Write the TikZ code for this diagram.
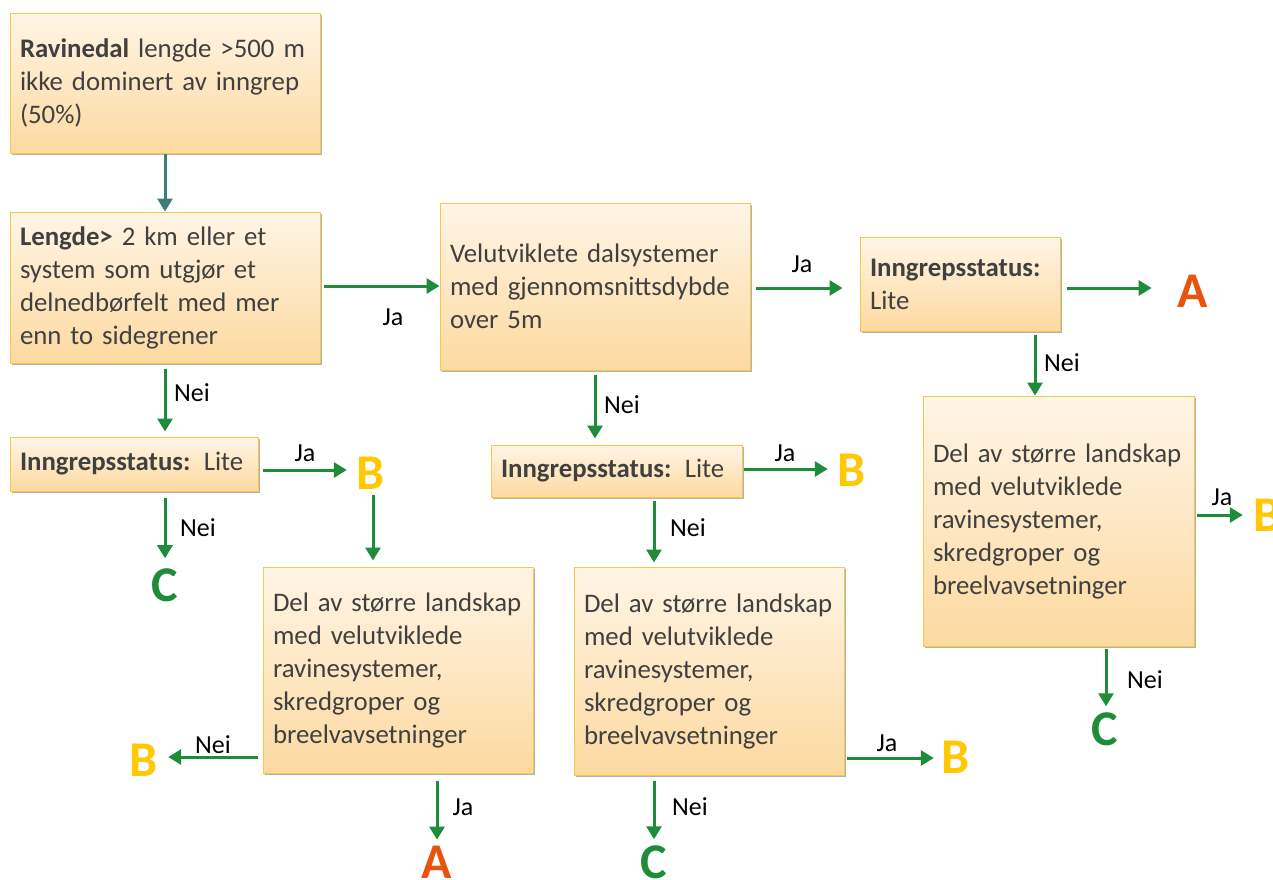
\documentclass[tikz,border=0pt]{standalone}
\usepackage{fontspec}
\setmainfont{Carlito}
\usetikzlibrary{arrows.meta,shadows,calc}
\definecolor{boxtop}{HTML}{FFF5E6}
\definecolor{boxbot}{HTML}{FCD9A0}
\definecolor{boxborder}{HTML}{F2C94A}
\definecolor{textgray}{HTML}{404040}
\definecolor{arrgreen}{HTML}{1E8C3A}
\definecolor{arrteal}{HTML}{3D7F78}
\definecolor{letA}{HTML}{E8530E}
\definecolor{letB}{HTML}{FFC800}
\definecolor{letC}{HTML}{1E8C3A}
\begin{document}
\begin{tikzpicture}[x=1pt,y=-1pt,
  box/.style={draw=boxborder, line width=1pt, top color=boxtop, bottom color=boxbot,
    drop shadow={shadow xshift=1.5pt, shadow yshift=-1.5pt, opacity=0.3, fill=black},
    text=textgray, align=left, inner xsep=10pt, inner ysep=0pt,
    font=\fontsize{26.8}{33}\selectfont},
  arr/.style={draw=arrgreen, line width=3pt, -{Triangle[length=13pt,width=15pt]}},
  lbl/.style={font=\fontsize{26}{28}\selectfont, text=black, inner sep=0pt},
  letter/.style={font=\fontsize{50}{50}\selectfont\bfseries, inner sep=2pt}]
\useasboundingbox (0,0) rectangle (1273,879);
\fill[white] (0,0) rectangle (1273,879);
% boxes
\node[box, text width=290pt, minimum height=140pt] (b1) at (165,83)
  {\textbf{Ravinedal} lengde >500 m\\ikke dominert av inngrep\\(50\%)};
\node[box, text width=290pt, minimum height=151pt] (b2) at (165,287.5)
  {\textbf{Lengde>} 2 km eller et\\system som utgjør et\\delnedbørfelt med mer\\enn to sidegrener};
\node[box, text width=290pt, minimum height=167pt] (b3) at (595,286.5)
  {Velutviklete dalsystemer\\med gjennomsnittsdybde\\over 5m};
\node[box, text width=180pt, minimum height=94pt] (b4) at (960,284)
  {\textbf{Inngrepsstatus:}\\Lite};
\node[box, text width=228pt, minimum height=54pt] (b5) at (134,464)
  {\textbf{Inngrepsstatus:} Lite};
\node[box, text width=231pt, minimum height=52pt] (b6) at (616.5,471)
  {\textbf{Inngrepsstatus:} Lite};
\node[box, text width=250pt, minimum height=206pt] (b7) at (398,670)
  {Del av større landskap\\med velutviklede\\ravinesystemer,\\skredgroper og\\breelvavsetninger};
\node[box, text width=250pt, minimum height=208pt] (b8) at (709,671)
  {Del av større landskap\\med velutviklede\\ravinesystemer,\\skredgroper og\\breelvavsetninger};
\node[box, text width=251pt, minimum height=250pt] (b9) at (1058.5,521)
  {Del av større landskap\\med velutviklede\\ravinesystemer,\\skredgroper og\\breelvavsetninger};
% letters
\node[letter, text=letA] (A1) at (1193,291) {A};
\node[letter, text=letB] (B1) at (371,473) {B};
\node[letter, text=letB] (B2) at (852,470) {B};
\node[letter, text=letB] (B3) at (1267,515) {B};
\node[letter, text=letC] (C1) at (165,585) {C};
\node[letter, text=letB] (B4) at (144,760) {B};
\node[letter, text=letA] (A2) at (437,862) {A};
\node[letter, text=letC] (C2) at (654,862) {C};
\node[letter, text=letB] (B5) at (955,757) {B};
\node[letter, text=letC] (C3) at (1105,729) {C};
% connectors
\draw[arr, draw=arrteal] (b1.south) -- (b2.north);
\coordinate (s1) at ([xshift=3pt,yshift=1.5pt]b2.east);
\draw[arr] (s1) -- (s1 -| b3.west);
\node[lbl] (l1) at (393,317) {Ja};
\coordinate (s2) at ([xshift=5pt,yshift=-1.5pt]b3.east);
\draw[arr] (s2) -- ([xshift=-17pt]s2 -| b4.west);
\node[lbl] (l2) at (802,264) {Ja};
\coordinate (s3) at ([xshift=6pt,yshift=-4pt]b4.east);
\draw[arr] (s3) -- ([xshift=-24pt]s3 -| A1.west);
\coordinate (s4) at ([xshift=75pt,yshift=-3pt]b4.south);
\draw[arr] (s4) -- (s4 |- b9.north);
\node[lbl] (l3) at (1062,363) {Nei};
\draw[arr] ([yshift=-5pt]b2.south) -- ([yshift=5pt]b5.north -| b2.south);
\node[lbl] (l4) at (192,393) {Nei};
\draw[arr] ([yshift=-4pt]b3.south) -- ([yshift=6pt]b6.north -| b3.south);
\node[lbl] (l5) at (622,405) {Nei};
\coordinate (s5) at ([xshift=4pt,yshift=-6pt]b5.east);
\draw[arr] (s5) -- ([xshift=-8pt]s5 -| B1.west);
\node[lbl] (l6) at (305,453) {Ja};
\coordinate (s6) at ([xshift=2pt,yshift=-4pt]B1.south);
\draw[arr] (s6) -- ([yshift=6pt]s6 |- b7.north);
\draw[arr] ([yshift=-6pt]b5.south -| b2.south) -- ([yshift=8pt]C1.north);
\node[lbl] (l7) at (198,528) {Nei};
\coordinate (s7) at ([xshift=1pt,yshift=2pt]b6.east);
\draw[arr] (s7) -- ([xshift=-8pt]s7 -| B2.west);
\node[lbl] (l8) at (785,453) {Ja};
\coordinate (s8) at ([xshift=37.5pt,yshift=-3pt]b6.south);
\draw[arr] (s8) -- ([yshift=4pt]s8 |- b8.north);
\node[lbl] (l9) at (688,528) {Nei};
\coordinate (s9) at ([xshift=-5pt,yshift=-87pt]b7.west);
\draw[arr] (s9) -- ([xshift=8pt]s9 -| B4.east);
\node[lbl] (l10) at (213,745) {Nei};
\coordinate (s10) at ([xshift=39pt,yshift=-7pt]b7.south);
\draw[arr] (s10) -- ([yshift=4pt]s10 |- A2.north);
\node[lbl] (l11) at (463,807) {Ja};
\coordinate (s11) at ([xshift=-55pt,yshift=-5pt]b8.south);
\draw[arr] (s11) -- ([yshift=4pt]s11 |- C2.north);
\node[lbl] (l12) at (690,807) {Nei};
\coordinate (s12) at ([xshift=2pt,yshift=-87pt]b8.east);
\draw[arr] (s12) -- ([xshift=-5pt]s12 -| B5.west);
\node[lbl] (l13) at (887,743) {Ja};
\coordinate (s13) at ([xshift=2pt,yshift=6pt]b9.east);
\draw[arr] (s13) -- ([xshift=-8pt]s13 -| B3.west);
\node[lbl] (l14) at (1222,497) {Ja};
\coordinate (s14) at ([xshift=47.5pt,yshift=-2pt]b9.south);
\draw[arr] (s14) -- ([yshift=4pt]s14 |- C3.north);
\node[lbl] (l15) at (1145,680) {Nei};
\end{tikzpicture}
\end{document}
